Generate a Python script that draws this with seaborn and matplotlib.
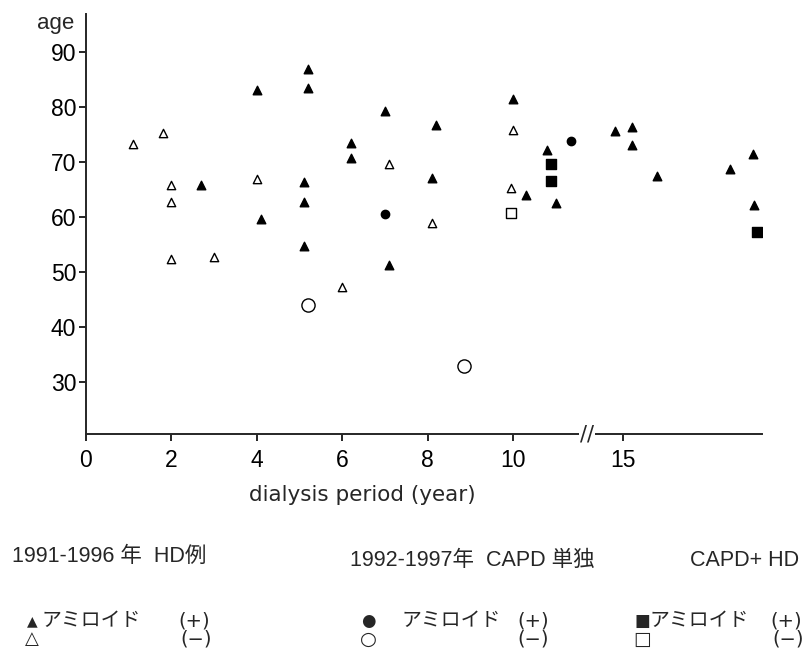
import matplotlib
matplotlib.use("Agg")
import matplotlib.pyplot as plt
import numpy as np
import pandas as pd
import seaborn as sns

# HD 1991-1996, amyloid (+) / (-)
hd_pos_period = [2.7, 4.0, 4.1, 5.1, 5.2, 5.2, 5.1, 5.1, 6.2, 6.2, 7.0, 7.1, 8.2, 8.1,
                 10.0, 10.8, 10.3, 11.0, 14.3, 15.2, 15.2, 15.8, 17.5, 18.05, 18.07]
hd_pos_age = [65.9, 83.0, 59.6, 54.8, 86.9, 83.4, 66.4, 62.7, 73.4, 70.7, 79.3, 51.3, 76.7, 67.0,
              81.4, 72.1, 64.0, 62.5, 75.7, 76.4, 73.1, 67.5, 68.7, 71.4, 62.2]
hd_neg_period = [1.1, 1.8, 2.0, 2.0, 2.0, 3.0, 4.0, 6.0, 7.1, 8.1, 10.0, 9.95]
hd_neg_age = [73.2, 75.2, 65.9, 62.8, 52.3, 52.7, 66.9, 47.3, 69.6, 58.9, 75.8, 65.2]

# CAPD only 1992-1997
capd_pos_period = [7.0, 11.35]
capd_pos_age = [60.5, 73.8]
capd_neg_period = [5.2, 8.85]
capd_neg_age = [44.0, 32.9]

# CAPD + HD
mix_pos_period = [10.9, 10.9, 18.13]
mix_pos_age = [69.6, 66.5, 57.2]
mix_neg_period = [9.95]
mix_neg_age = [60.8]

xticks = [0, 2, 4, 6, 8, 10, 15]
yticks = [30, 40, 50, 60, 70, 80, 90]

# broken x axis: compress the gap between ~11.7 and 15 years
brk_x = [0, 11.73, 15, 40]
brk_p = [0, 11.73, 12.58, 37.58]


def fwd(x):
    return np.interp(x, brk_x, brk_p)


def inv(p):
    return np.interp(p, brk_p, brk_x)


sns.set_style("ticks")
plt.rcParams['font.family'] = ['Liberation Sans', 'DejaVu Sans']

W, H = 812, 656
fig = plt.figure(figsize=(W / 100, H / 100), dpi=100)
ax = fig.add_axes([86 / W, 1 - 434 / H, (762 - 86) / W, (434 - 14) / H])
ax.set_xscale('function', functions=(fwd, inv))

groups = [
    (hd_pos_period, hd_pos_age, '^', 'black', 38),
    (hd_neg_period, hd_neg_age, '^', 'white', 36),
    (capd_pos_period, capd_pos_age, 'o', 'black', 36),
    (capd_neg_period, capd_neg_age, 'o', 'white', 90),
    (mix_pos_period, mix_pos_age, 's', 'black', 50),
    (mix_neg_period, mix_neg_age, 's', 'white', 45),
]
for px, py, mk, fc, sz in groups:
    df = pd.DataFrame({'period': px, 'age': py})
    sns.scatterplot(data=df, x='period', y='age', marker=mk, color=fc,
                    edgecolor='black', linewidth=1.0, s=sz, ax=ax, legend=False, zorder=3)

ax.set_xlim(0, 18.25)
ax.set_ylim(20.55, 96.9)
ax.set_xticks(xticks)
ax.set_xticklabels([str(t) for t in xticks])
ax.set_yticks(yticks)
ax.set_xlabel('')
ax.set_ylabel('')
for sp in ['top', 'right']:
    ax.spines[sp].set_visible(False)
for sp in ['left', 'bottom']:
    ax.spines[sp].set_linewidth(1.4)
ax.tick_params(axis='both', direction='out', length=5, width=1.2, labelsize=16.5, colors='black')
ax.tick_params(axis='x', pad=6)
ax.tick_params(axis='y', pad=2)

# break mark on x axis
ax.text(fwd(11.73), 0, '//', transform=ax.get_xaxis_transform(), ha='center', va='center',
        fontsize=15, family='DejaVu Sans',
        bbox=dict(facecolor='white', edgecolor='none', pad=0.5))


def ft(px, py, s, **kw):
    fig.text(px / W, 1 - py / H, s, **kw)


ft(37, 24, 'age', fontsize=16, va='center', ha='left')
ft(362, 495, 'dialysis period (year)', fontsize=15.5, family='DejaVu Sans', ha='center', va='center')

lat = ['Liberation Sans', 'Noto Sans CJK JP']
jp = ['Noto Sans CJK JP', 'DejaVu Sans']
ft(12, 556, '1991-1996 年  HD例', fontsize=15.5, family=lat, va='center')
ft(350, 560, '1992-1997年  CAPD 単独', fontsize=15.5, family=lat, va='center')
ft(690, 560, 'CAPD+ HD', fontsize=15.5, family=lat, va='center')

r1, r2 = 621, 639
sym = dict(family='DejaVu Sans', ha='center', va='center')
ft(32, r1, '▲', fontsize=10, **sym)
ft(32, r2, '△', fontsize=13, **sym)
ft(368, r1, '●', fontsize=12, **sym)
ft(368, r2, '○', fontsize=14, **sym)
ft(642, r1, '■', fontsize=12, **sym)
ft(642, r2, '□', fontsize=13.5, **sym)

ft(42, r1, 'アミロイド', fontsize=14.3, family=jp, va='center')
ft(402, r1, 'アミロイド', fontsize=14.3, family=jp, va='center')
ft(650, r1, 'アミロイド', fontsize=14.3, family=jp, va='center')
for x0 in [178, 517, 770]:
    ft(x0, r1, '(+)', fontsize=14, family='DejaVu Sans', va='center')
for x0 in [180, 517, 772]:
    ft(x0, r2, '(−)', fontsize=14, family='DejaVu Sans', va='center')

fig.savefig('out.png', dpi=100)
